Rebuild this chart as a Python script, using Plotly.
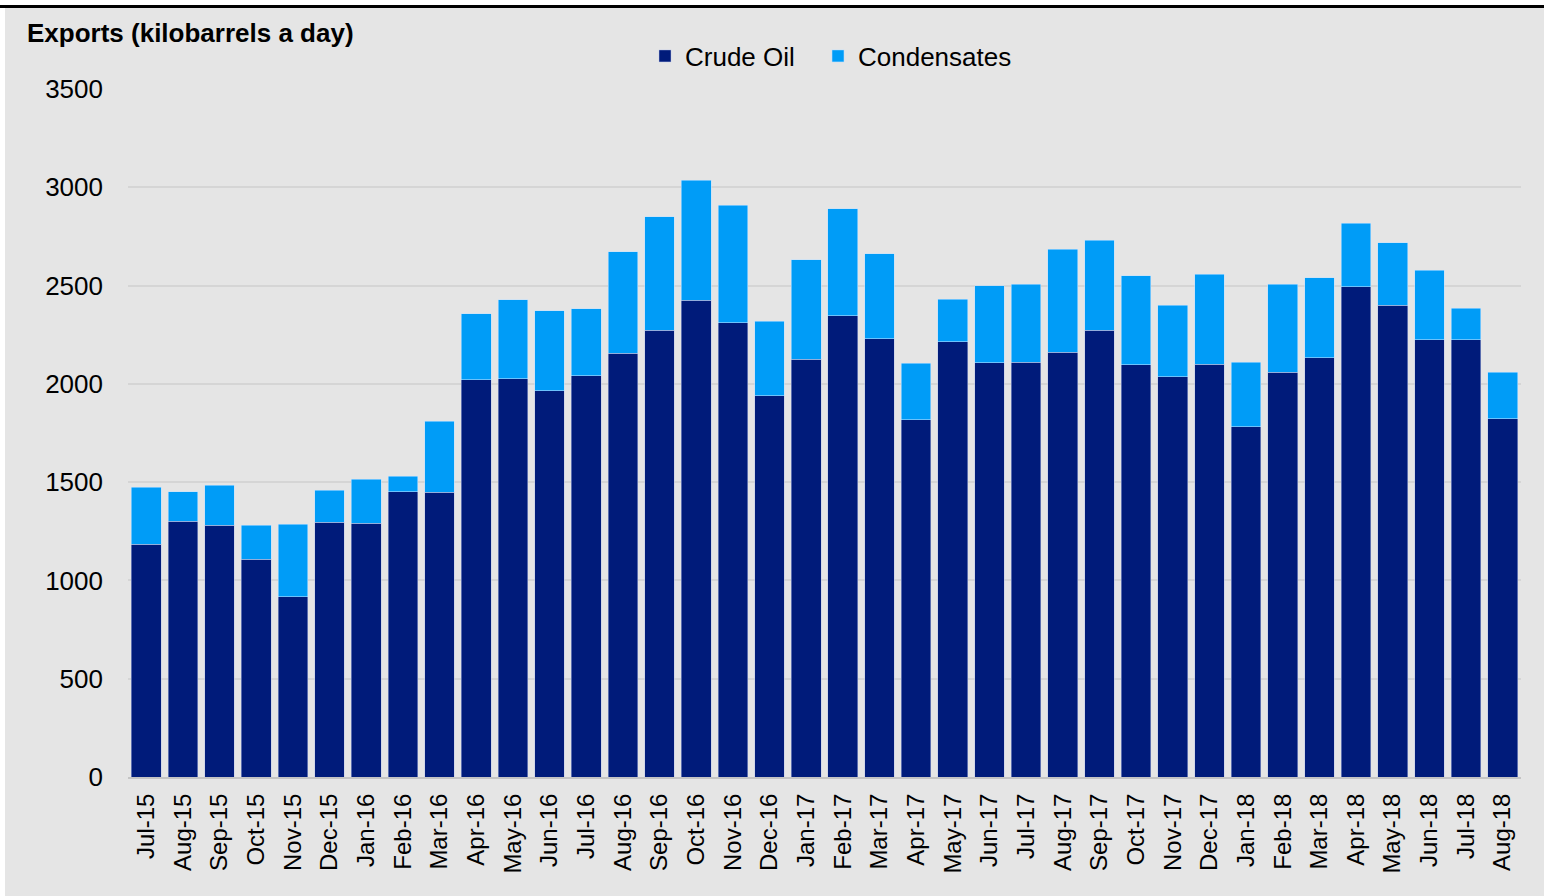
import plotly.graph_objects as go

months = ["Jul-15", "Aug-15", "Sep-15", "Oct-15", "Nov-15", "Dec-15",
          "Jan-16", "Feb-16", "Mar-16", "Apr-16", "May-16", "Jun-16",
          "Jul-16", "Aug-16", "Sep-16", "Oct-16", "Nov-16", "Dec-16",
          "Jan-17", "Feb-17", "Mar-17", "Apr-17", "May-17", "Jun-17",
          "Jul-17", "Aug-17", "Sep-17", "Oct-17", "Nov-17", "Dec-17",
          "Jan-18", "Feb-18", "Mar-18", "Apr-18", "May-18", "Jun-18",
          "Jul-18", "Aug-18"]

crude_oil = [1185, 1302, 1282, 1109, 916, 1297,
             1292, 1451, 1448, 2021, 2026, 1965,
             2042, 2155, 2272, 2425, 2311, 1940,
             2125, 2347, 2230, 1818, 2213, 2108,
             2110, 2160, 2274, 2098, 2035, 2101,
             1782, 2059, 2132, 2493, 2400, 2225,
             2225, 1823]

condensates = [290, 148, 203, 173, 371, 163,
               224, 80, 361, 336, 401, 407,
               339, 517, 578, 610, 597, 378,
               507, 543, 432, 288, 217, 390,
               398, 525, 456, 452, 366, 456,
               329, 449, 408, 324, 318, 354,
               159, 236]

y_ticks = [0, 500, 1000, 1500, 2000, 2500, 3000, 3500]

W, H = 1544, 896
L, R, T, B = 128, 23, 89, 119
pw, ph = W - L - R, H - T - B

def px_x(px):
    return (px - L) / pw

def px_y(py):
    return (H - B - py) / ph

FONT = "Liberation Sans, Arial, sans-serif"
BG = "#e5e5e5"
NAVY = "#001b7a"
LIGHT = "#009cf7"

fig = go.Figure()
fig.add_trace(go.Bar(x=months, y=crude_oil, name="Crude Oil", legend="legend",
                     marker=dict(color=NAVY, line=dict(color="rgba(190,200,235,0.6)", width=0.8))))
fig.add_trace(go.Bar(x=months, y=condensates, name="Condensates", legend="legend2",
                     marker=dict(color=LIGHT, line=dict(color="rgba(190,225,255,0.7)", width=0.8))))

legend_common = dict(orientation="h", xanchor="left", yanchor="middle",
                     font=dict(size=26, color="black"), bgcolor="rgba(0,0,0,0)")

fig.update_layout(
    width=W, height=H,
    barmode="stack", bargap=0.19,
    margin=dict(l=L, r=R, t=T, b=B, pad=0),
    paper_bgcolor="white",
    plot_bgcolor=BG,
    font=dict(family=FONT, size=26, color="black"),
    showlegend=True,
    legend=dict(x=px_x(645), y=px_y(56), **legend_common),
    legend2=dict(x=px_x(818), y=px_y(56), **legend_common),
    xaxis=dict(tickangle=-90, tickfont=dict(size=24, color="black"),
               showgrid=False, showline=True, linecolor="#c4c4c4", linewidth=2,
               ticks="", ticklabelstandoff=5),
    yaxis=dict(range=[0, 3500], tickvals=y_ticks, ticktext=[str(v) for v in y_ticks],
               tickfont=dict(size=26, color="black"),
               showgrid=True, gridcolor="#d5d5d5", gridwidth=1.5,
               zeroline=False, showline=False, ticks="", ticklabelstandoff=24),
    shapes=[
        dict(type="rect", xref="paper", yref="paper", layer="below",
             x0=px_x(5), x1=px_x(W + 2), y0=px_y(8), y1=px_y(H + 2),
             fillcolor=BG, line=dict(width=0)),
        dict(type="line", xref="paper", yref="paper",
             x0=px_x(-2), x1=px_x(W + 2), y0=px_y(6.5), y1=px_y(6.5),
             line=dict(color="black", width=3)),
    ],
    annotations=[
        dict(text="<b>Exports (kilobarrels a day)</b>", xref="paper", yref="paper",
             x=px_x(25), y=px_y(33), xanchor="left", yanchor="middle",
             showarrow=False, font=dict(size=26, color="black")),
    ],
)

fig.write_html("out.html", config={"displayModeBar": False},
               post_script="document.body.style.margin='0';document.body.style.overflow='hidden';")
